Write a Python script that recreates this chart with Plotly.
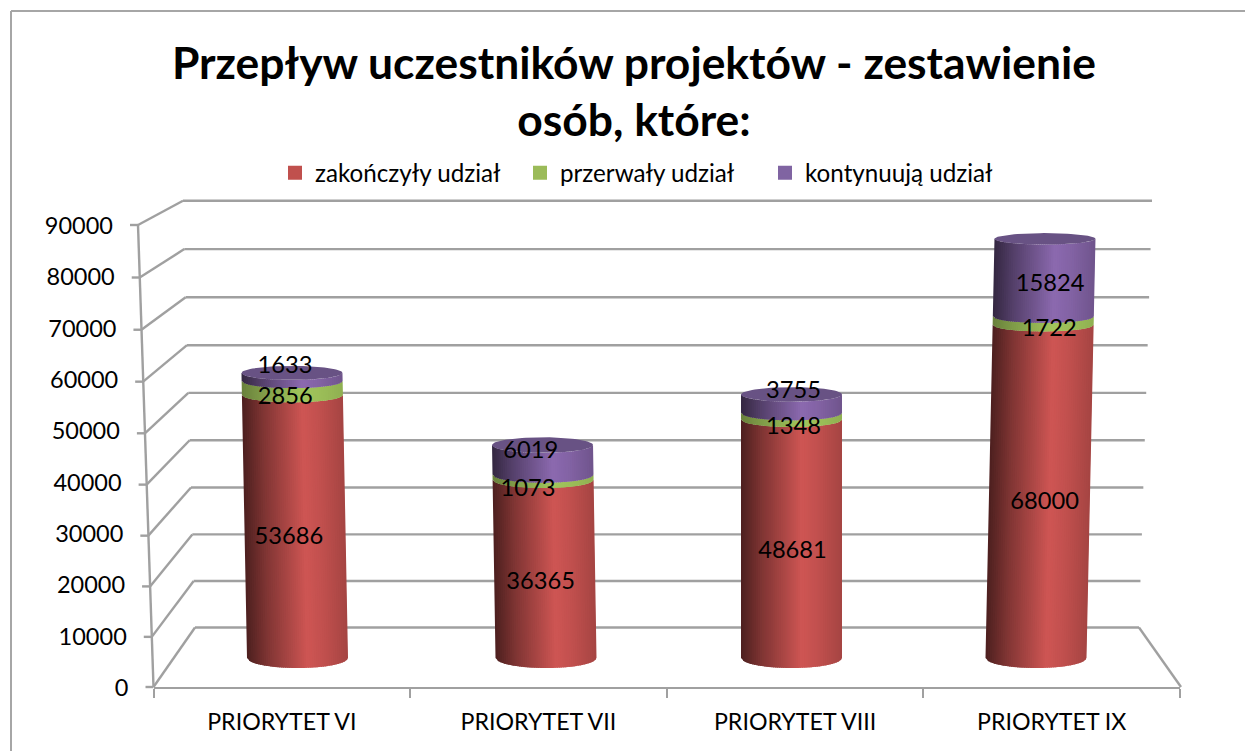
import numpy as np
import plotly.graph_objects as go

# ---------- data ----------
categories = ["PRIORYTET VI", "PRIORYTET VII", "PRIORYTET VIII", "PRIORYTET IX"]
series_names = ["zakończyły udział", "przerwały udział", "kontynuują udział"]
zakonczyly = [53686, 36365, 48681, 68000]
przerwaly = [2856, 1073, 1348, 1722]
kontynuuja = [1633, 6019, 3755, 15824]
tick_values = [0, 10000, 20000, 30000, 40000, 50000, 60000, 70000, 80000, 90000]
title_text = "Przepływ uczestników projektów - zestawienie<br>osób, które:"

# ---------- styles / layout geometry ----------
W, H = 1245, 751
FONT = "Lato"
GRAY = "#a0a0a0"
legend_colors = ["#c0504d", "#9bbb59", "#8064a2"]
peak_rgb = [(207, 86, 84), (162, 198, 92), (140, 106, 176)]
floor_shade = [0.0, 0.45, 0.0]
cap_rgb = (104, 82, 132)
cyl_centers = [297.5, 546.0, 791.5, 1036.0]
cyl_lean = [-9.5e-5, -8e-5, 0.0, 1.05e-4]
cyl_half = 50.5
base_px = 658.0
px_per_unit = 0.0049
label_dx = [[-6, -7, -7], [-4, -15, -12], [1, 2, 2], [5, 6, 6]]
label_dy = [[11.5, 10, -10], [14, 13, -8], [13, 12, -12], [12, 9, 7]]
N = 48


def px(x):
    return x / W


def py(y):
    return 1 - y / H


def ry(v):
    return 10 - 5e-5 * v


def center(i, v):
    return cyl_centers[i] + cyl_lean[i] * v


def arc(v, u):
    return ry(v) * np.sqrt(max(0.0, 1 - u * u)) / px_per_unit


def shade(u, s, floor):
    f = float(np.interp(u, [-1, -0.6, 0, 0.2, 0.55, 1], [0.37, 0.61, 0.9, 1.0, 0.93, 0.8]))
    f = floor + (1 - floor) * f
    return "rgb(%d,%d,%d)" % tuple(int(c * f) for c in peak_rgb[s])


series = [zakonczyly, przerwaly, kontynuuja]
cum = np.cumsum(np.array(series, dtype=float), axis=0)
lows = np.vstack([np.zeros(len(categories)), cum[:-1]])
totals = cum[-1]

fig = go.Figure()

# hidden trace carrying the category axis
fig.add_trace(go.Scatter(x=categories, y=list(totals), mode="markers", marker=dict(opacity=0),
                         showlegend=False, hoverinfo="skip", xaxis="x", yaxis="y"))

# legend entries
for name, col in zip(series_names, legend_colors):
    fig.add_trace(go.Scatter(x=[None], y=[None], mode="markers", name=name,
                             marker=dict(symbol="square", size=14, color=col),
                             xaxis="x", yaxis="y"))

# cylinder bodies: vertical strips with shading
edges = np.linspace(-1, 1, N + 1)
for s in range(3):
    for k in range(N):
        u0, u1 = edges[k], min(1.0, edges[k + 1] + 0.03)
        xs, ys = [], []
        for i in range(len(categories)):
            lo, hi = lows[s][i], cum[s][i]
            xs += [center(i, lo) + cyl_half * u0, center(i, lo) + cyl_half * u1,
                   center(i, hi) + cyl_half * u1, center(i, hi) + cyl_half * u0,
                   center(i, lo) + cyl_half * u0, None]
            ys += [lo - arc(lo, u0), lo - arc(lo, u1), hi - arc(hi, u1), hi - arc(hi, u0),
                   lo - arc(lo, u0), None]
        fig.add_trace(go.Scatter(x=xs, y=ys, mode="lines", fill="toself",
                                 fillcolor=shade((edges[k] + edges[k + 1]) / 2, s, floor_shade[s]),
                                 line=dict(width=0), showlegend=False, hoverinfo="skip",
                                 xaxis="x2", yaxis="y2"))

# top caps
t = np.linspace(0, 2 * np.pi, 80)
xs, ys = [], []
for i in range(len(categories)):
    v = totals[i]
    xs += list(center(i, v) + cyl_half * np.cos(t)) + [None]
    ys += list(v + ry(v) / px_per_unit * np.sin(t)) + [None]
fig.add_trace(go.Scatter(x=xs, y=ys, mode="lines", fill="toself",
                         fillcolor="rgb(%d,%d,%d)" % cap_rgb, line=dict(width=0),
                         showlegend=False, hoverinfo="skip", xaxis="x2", yaxis="y2"))

# value labels
lx, ly, lt = [], [], []
for s in range(3):
    for i in range(len(categories)):
        mid = (lows[s][i] + cum[s][i]) / 2
        lx.append(center(i, mid) + label_dx[i][s])
        ly.append(mid - label_dy[i][s] / px_per_unit)
        lt.append(str(series[s][i]))
fig.add_trace(go.Scatter(x=lx, y=ly, text=lt, mode="text", textposition="middle center",
                         textfont=dict(family=FONT, size=23.7, color="black"),
                         showlegend=False, hoverinfo="skip", cliponaxis=False,
                         xaxis="x2", yaxis="y2"))


# perspective walls
def front_x(t_):
    return 153.5 - 15.5 * t_


def front_y(t_):
    return 687 - 462 * t_ + 12 * t_ * (1 - t_)


def back_y(t_):
    return 627.5 - 426.8 * t_ + 10 * t_ * (1 - t_)


def back_xl(t_):
    return 195 - 12 * t_


def back_xr(t_):
    return 1139 + 13 * t_


shapes = []


def seg(x0, y0, x1, y1, width=2.4, color=GRAY):
    shapes.append(dict(type="line", xref="paper", yref="paper", x0=px(x0), y0=py(y0), x1=px(x1), y1=py(y1),
                       line=dict(color=color, width=width), layer="below"))


vmax = tick_values[-1]
for v in tick_values:
    tt = v / vmax
    seg(back_xl(tt), back_y(tt), back_xr(tt), back_y(tt))
    seg(front_x(tt), front_y(tt), back_xl(tt), back_y(tt))
    seg(front_x(tt) - 8, front_y(tt), front_x(tt), front_y(tt))
seg(front_x(0), front_y(0), front_x(1), front_y(1))
seg(back_xr(0), back_y(0), 1181, 687)
# outer frame
seg(11, 11, W, 11, 2, "#a6a6a6")
seg(11, 11, 11, H, 2, "#a6a6a6")

# left value-axis labels (placed on the front edge of the side wall)
fig.add_trace(go.Scatter(
    x=[front_x(v / vmax) - 25 for v in tick_values],
    y=[(base_px - (687 + 3 - 462 * v / vmax)) / px_per_unit for v in tick_values],
    text=[str(v) for v in tick_values],
    mode="text", textposition="middle left",
    textfont=dict(family=FONT, size=23.5, color="black"), showlegend=False, hoverinfo="skip",
    cliponaxis=False, xaxis="x2", yaxis="y2"))

fig.update_layout(
    width=W, height=H, margin=dict(l=0, r=0, t=0, b=0), autosize=False,
    paper_bgcolor="white", plot_bgcolor="rgba(0,0,0,0)",
    shapes=shapes,
    title=dict(text=title_text, x=634 / W, xanchor="center", y=1 - 78.5 / H, yanchor="middle",
               font=dict(family=FONT, size=44.4, color="black", weight="bold")),
    legend=dict(orientation="h", x=275 / W, xanchor="left", y=1 - 173 / H, yanchor="middle",
                font=dict(family=FONT, size=24.2, color="black"), bgcolor="rgba(0,0,0,0)",
                entrywidth=200, entrywidthmode="pixels",
                itemclick=False, itemdoubleclick=False),
    xaxis=dict(domain=[px(153.5), px(1180)], type="category", range=[-0.5, 3.5], anchor="y",
               categoryorder="array", categoryarray=categories,
               showline=True, linecolor=GRAY, linewidth=2.4, showgrid=False, zeroline=False,
               ticks="outside", ticklen=9, tickwidth=2, tickcolor=GRAY, tickson="boundaries",
               ticklabelstandoff=13, tickfont=dict(family=FONT, size=23.2, color="black")),
    yaxis=dict(domain=[py(687), py(225)], range=[0, vmax], anchor="x", showgrid=False, zeroline=False,
               showline=False, showticklabels=False, ticks="", tickvals=tick_values),
    xaxis2=dict(domain=[0, 1], range=[0, W], anchor="y2", visible=False),
    yaxis2=dict(domain=[0, 1], range=[(base_px - H) / px_per_unit, base_px / px_per_unit],
                anchor="x2", visible=False),
)

fig.write_html("out.html", config=dict(displayModeBar=False),
               post_script="document.body.style.margin='0';document.documentElement.style.overflow='hidden';")
